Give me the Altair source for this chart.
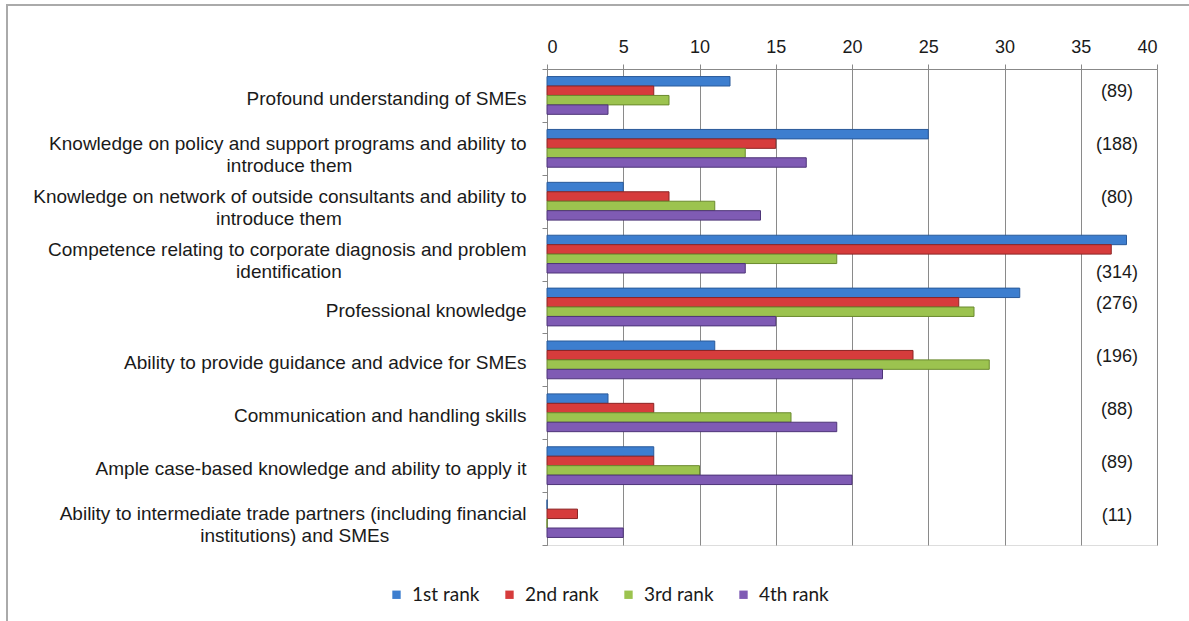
import altair as alt
import pandas as pd

categories = [
    "Profound understanding of SMEs",
    "Knowledge on policy and support programs and ability to|introduce them",
    "Knowledge on network of outside consultants and ability to|introduce them",
    "Competence relating to corporate diagnosis and problem|identification",
    "Professional knowledge",
    "Ability to provide guidance and advice for SMEs",
    "Communication and handling skills",
    "Ample case-based knowledge and ability to apply it",
    "Ability to intermediate trade partners (including financial|institutions) and SMEs",
]
ranks = ["1st rank", "2nd rank", "3rd rank", "4th rank"]
rank1 = [12, 25, 5, 38, 31, 11, 4, 7, 0]
rank2 = [7, 15, 8, 37, 27, 24, 7, 7, 2]
rank3 = [8, 13, 11, 19, 28, 29, 16, 10, 0]
rank4 = [4, 17, 14, 13, 15, 22, 19, 20, 5]
scores = [89, 188, 80, 314, 276, 196, 88, 89, 11]
x_ticks = [0, 5, 10, 15, 20, 25, 30, 35, 40]

fills = ["#3D7ECF", "#D63C3C", "#9CC34F", "#7F5BB4"]
strokes = ["#2A5A9A", "#8C2424", "#6B8A2E", "#4E3578"]

# Arial advance widths (1/1000 em) to centre the second label line like Excel does
W = {" ": 278, "(": 333, ")": 333, "-": 333, "A": 667, "C": 722, "E": 667,
     "K": 667, "M": 833, "P": 667, "S": 667, "a": 556, "b": 556, "c": 500,
     "d": 556, "e": 556, "f": 278, "g": 556, "h": 556, "i": 222, "j": 222,
     "k": 500, "l": 222, "m": 833, "n": 556, "o": 556, "p": 556, "q": 556,
     "r": 333, "s": 500, "t": 278, "u": 556, "v": 500, "w": 722, "x": 500,
     "y": 500, "z": 500}


def width(s):
    return sum(W.get(c, 556) for c in s)


labels = []
for c in categories:
    parts = c.split("|")
    if len(parts) == 2:
        n = round((width(parts[0]) - width(parts[1])) / 2 / 278)
        parts[1] = parts[1] + "\u00a0" * max(n, 0) + "\u200b"
    labels.append("|".join(parts))

rows = []
for i, lab in enumerate(labels):
    for r, vals in zip(ranks, [rank1, rank2, rank3, rank4]):
        rows.append({"category": lab, "rank": r, "value": vals[i]})
df = pd.DataFrame(rows)
sdf = pd.DataFrame({"category": labels, "score": ["(%d)" % s for s in scores]})

yscale = alt.Scale(paddingInner=0, paddingOuter=0)
yenc = alt.Y("category:N", sort=labels, scale=yscale,
             axis=alt.Axis(title=None, labelExpr="split(datum.label, '|')",
                           labelFont="Liberation Sans", labelFontSize=19,
                           labelColor="#1a1a1a", labelLimit=700,
                           labelLineHeight=22, labelPadding=16, tickSize=5,
                           labelOffset=alt.condition("indexof(datum.label, '|') >= 0",
                                                     alt.value(-5), alt.value(3)),
                           tickBand="extent", tickColor="#888",
                           domainColor="#888", grid=False))

bars = alt.Chart(df).mark_bar(strokeWidth=1).encode(
    y=yenc,
    yOffset=alt.YOffset("rank:N", sort=ranks,
                        scale=alt.Scale(paddingInner=0, paddingOuter=0.8)),
    x=alt.X("value:Q", scale=alt.Scale(domain=[0, 40], nice=False),
            axis=alt.Axis(title=None, orient="top", values=x_ticks,
                          labelFont="Liberation Sans", labelFontSize=18,
                          labelColor="#1a1a1a", labelPadding=8, tickSize=5,
                          tickColor="#888", domainColor="#888",
                          grid=True, gridColor="#8a8a8a", gridWidth=1)),
    color=alt.Color("rank:N", scale=alt.Scale(domain=ranks, range=fills),
                    legend=alt.Legend(title=None, orient="none", legendX=-160,
                                      legendY=516, direction="horizontal",
                                      columns=4, symbolType="square",
                                      symbolSize=70, symbolStrokeWidth=0,
                                      labelFont="Lato", labelFontSize=19,
                                      labelColor="#1a1a1a", columnPadding=20,
                                      labelOffset=6)),
    stroke=alt.Stroke("rank:N", scale=alt.Scale(domain=ranks, range=strokes),
                      legend=None),
)

ytext = alt.Y("category:N", sort=labels, scale=yscale)
txt_main = alt.Chart(sdf).transform_filter("datum.score != '(314)'").mark_text(
    font="Liberation Sans", fontSize=18, color="#1a1a1a", align="center",
    baseline="middle", dy=-3
).encode(y=ytext, x=alt.value(570), text="score:N")
txt_314 = alt.Chart(sdf).transform_filter("datum.score == '(314)'").mark_text(
    font="Liberation Sans", fontSize=18, color="#1a1a1a", align="center",
    baseline="middle", dy=19
).encode(y=ytext, x=alt.value(570), text="score:N")

frame = alt.Chart(pd.DataFrame({"a": [0]})).mark_rect(
    fill="transparent", stroke="#aaaaaa", strokeWidth=2
).encode(x=alt.value(-540), x2=alt.value(700), y=alt.value(-64), y2=alt.value(600))

chart = alt.layer(frame, bars, txt_main, txt_314).properties(
    width=610, height=476, autosize="none",
    padding={"left": 547, "top": 69, "right": 32, "bottom": 76},
).configure_view(stroke=None).configure(background="white")

chart.save("out.html", embed_options={"renderer": "svg", "actions": False})
